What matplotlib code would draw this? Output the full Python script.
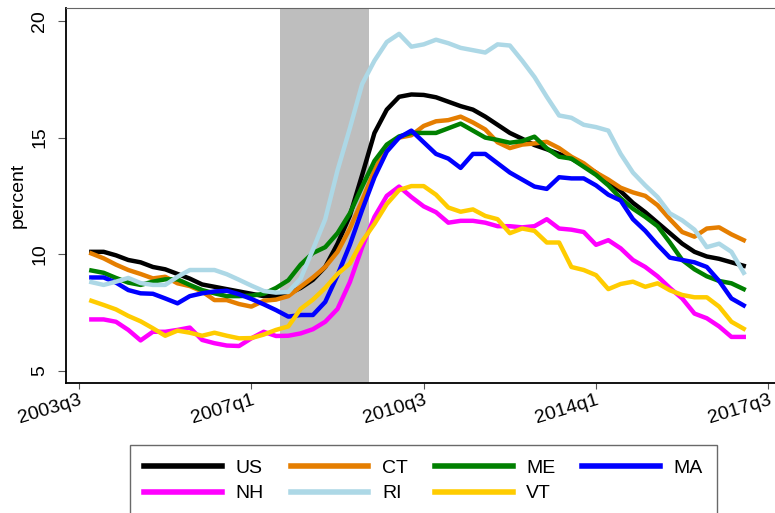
import matplotlib
matplotlib.use("Agg")
import matplotlib.pyplot as plt
import numpy as np

plt.rcParams['font.family'] = ['Liberation Sans', 'DejaVu Sans']

# quarterly rates, 2003q4 .. 2017q1
us = [10.1, 10.1, 9.95, 9.75, 9.65, 9.45, 9.35, 9.15, 8.95, 8.7, 8.6, 8.5, 8.4, 8.3,
      8.2, 8.2, 8.3, 8.55, 8.9, 9.45, 10.45, 11.65, 13.4, 15.2, 16.2, 16.75, 16.85, 16.83,
      16.73, 16.54, 16.35, 16.2, 15.9, 15.55, 15.2, 14.95, 14.68, 14.5, 14.3, 14.1, 13.8, 13.5,
      13.1, 12.7, 12.2, 11.8, 11.35, 10.9, 10.45, 10.1, 9.9, 9.8, 9.65, 9.5]
ct = [10.03, 9.82, 9.55, 9.32, 9.15, 8.96, 9.03, 8.75, 8.63, 8.4, 8.03, 8.03, 7.86, 7.75,
      8.0, 8.05, 8.2, 8.6, 9.0, 9.45, 10.1, 11.1, 12.3, 13.6, 14.6, 15.0, 15.1, 15.5,
      15.7, 15.75, 15.9, 15.65, 15.35, 14.8, 14.55, 14.7, 14.75, 14.82, 14.55, 14.18, 13.9, 13.5,
      13.2, 12.85, 12.65, 12.5, 12.1, 11.5, 10.95, 10.75, 11.1, 11.15, 10.85, 10.6]
me = [9.3, 9.2, 8.98, 8.78, 8.68, 8.82, 8.92, 8.92, 8.68, 8.46, 8.32, 8.2, 8.2, 8.22,
      8.3, 8.55, 8.88, 9.55, 10.05, 10.3, 10.9, 11.75, 12.9, 14.0, 14.7, 15.05, 15.2, 15.2,
      15.2, 15.4, 15.6, 15.3, 15.0, 14.9, 14.78, 14.85, 15.04, 14.54, 14.18, 14.1, 13.75, 13.4,
      12.95, 12.4, 11.95, 11.6, 11.2, 10.5, 9.75, 9.35, 9.05, 8.85, 8.75, 8.5]
ma = [9.0, 9.0, 8.78, 8.46, 8.32, 8.3, 8.1, 7.89, 8.2, 8.32, 8.4, 8.43, 8.28, 8.08,
      7.85, 7.6, 7.32, 7.39, 7.39, 7.95, 9.1, 10.4, 11.9, 13.3, 14.4, 15.0, 15.3, 14.8,
      14.3, 14.1, 13.7, 14.3, 14.3, 13.9, 13.5, 13.2, 12.9, 12.8, 13.3, 13.25, 13.25, 12.95,
      12.55, 12.3, 11.5, 11.0, 10.4, 9.85, 9.75, 9.65, 9.45, 8.85, 8.1, 7.8]
nh = [7.2, 7.2, 7.1, 6.75, 6.3, 6.67, 6.67, 6.75, 6.85, 6.32, 6.18, 6.08, 6.06, 6.39,
      6.67, 6.49, 6.5, 6.6, 6.78, 7.1, 7.65, 8.8, 10.3, 11.6, 12.5, 12.9, 12.45, 12.05,
      11.8, 11.35, 11.43, 11.43, 11.35, 11.2, 11.2, 11.15, 11.2, 11.5, 11.1, 11.05, 10.95, 10.4,
      10.6, 10.25, 9.75, 9.45, 9.05, 8.55, 8.1, 7.45, 7.25, 6.9, 6.45, 6.45]
ri = [8.8, 8.68, 8.82, 8.98, 8.76, 8.68, 8.68, 9.03, 9.32, 9.32, 9.32, 9.14, 8.9, 8.65,
      8.42, 8.35, 8.38, 8.95, 10.2, 11.5, 13.6, 15.4, 17.3, 18.3, 19.1, 19.45, 18.9, 19.0,
      19.2, 19.05, 18.85, 18.75, 18.65, 19.0, 18.95, 18.3, 17.6, 16.75, 15.95, 15.85, 15.55, 15.45,
      15.3, 14.3, 13.5, 12.95, 12.45, 11.75, 11.45, 11.05, 10.3, 10.45, 10.1, 9.2]
vt = [8.0, 7.82, 7.63, 7.35, 7.12, 6.82, 6.5, 6.72, 6.63, 6.5, 6.63, 6.5, 6.39, 6.4,
      6.55, 6.75, 6.9, 7.65, 8.05, 8.55, 9.15, 9.6, 10.55, 11.3, 12.15, 12.75, 12.92, 12.92,
      12.55, 12.0, 11.82, 11.92, 11.64, 11.5, 10.9, 11.1, 11.0, 10.5, 10.5, 9.45, 9.32, 9.1,
      8.5, 8.72, 8.82, 8.6, 8.75, 8.45, 8.25, 8.15, 8.15, 7.75, 7.1, 6.8]

series = ['US', 'CT', 'ME', 'MA', 'NH', 'RI', 'VT']
values = [us, ct, me, ma, nh, ri, vt]
colors = ['black', '#E57E00', '#008000', '#0000FF', '#FF00FF', '#ADD8E6', '#FFCC00']

# quarter index: 0 = 2003q3
t = np.arange(1, len(us) + 1)
tick_pos = [0, 14, 28, 42, 56]
tick_labels = ['2003q3', '2007q1', '2010q3', '2014q1', '2017q3']
recession = (16.33, 23.56)

fig = plt.figure(figsize=(7.75, 5.13), dpi=100)
ax = fig.add_axes([66 / 775, 1 - 383.3 / 513, 709 / 775, 375.3 / 513])

ax.axvspan(recession[0], recession[1], color='#BEBEBE', lw=0, zorder=1)
lines = {}
for name, vals, c in zip(series, values, colors):
    lines[name], = ax.plot(t, vals, color=c, lw=3.2, label=name, zorder=2)

ax.set_xlim(-1.06, 56.54)
ax.set_ylim(4.46, 20.56)
ax.tick_params(axis='x', direction='out', length=4.5, width=0.8, color='#555555', pad=1.5,
               labelsize=14)
ax.tick_params(axis='y', direction='out', length=5.8, width=0.8, color='#555555', pad=7,
               labelsize=14)
ax.set_yticks([5, 10, 15, 20])
ax.set_xticks(tick_pos)
ax.set_xticklabels(tick_labels)
plt.setp(ax.get_xticklabels(), rotation=17, ha='right', va='top', rotation_mode='anchor')
plt.setp(ax.get_yticklabels(), rotation=90, va='center')

ax.set_ylabel('percent', fontsize=14)
ax.yaxis.set_label_coords(-0.056, 0.5)

ax.spines['right'].set_visible(False)
ax.spines['top'].set_color('#666666')
ax.spines['left'].set_linewidth(1.3)
ax.spines['bottom'].set_linewidth(1.3)

# legend filled row by row (matplotlib fills columns first)
leg_order = ['US', 'NH', 'CT', 'RI', 'ME', 'VT', 'MA']
leg = fig.legend([lines[n] for n in leg_order], leg_order,
                 loc='upper left', bbox_to_anchor=(130 / 775, 0, 587 / 775, (513 - 445) / 513),
                 mode='expand', borderaxespad=0, ncol=4, fontsize=14, handlelength=4.0,
                 handletextpad=0.7, columnspacing=1.6, labelspacing=0.42, borderpad=0.72,
                 fancybox=False, edgecolor='#444444', frameon=True)
leg.get_frame().set_linewidth(1.0)
for h in leg.get_lines():
    h.set_linewidth(4)

fig.savefig('out.png', dpi=100)
